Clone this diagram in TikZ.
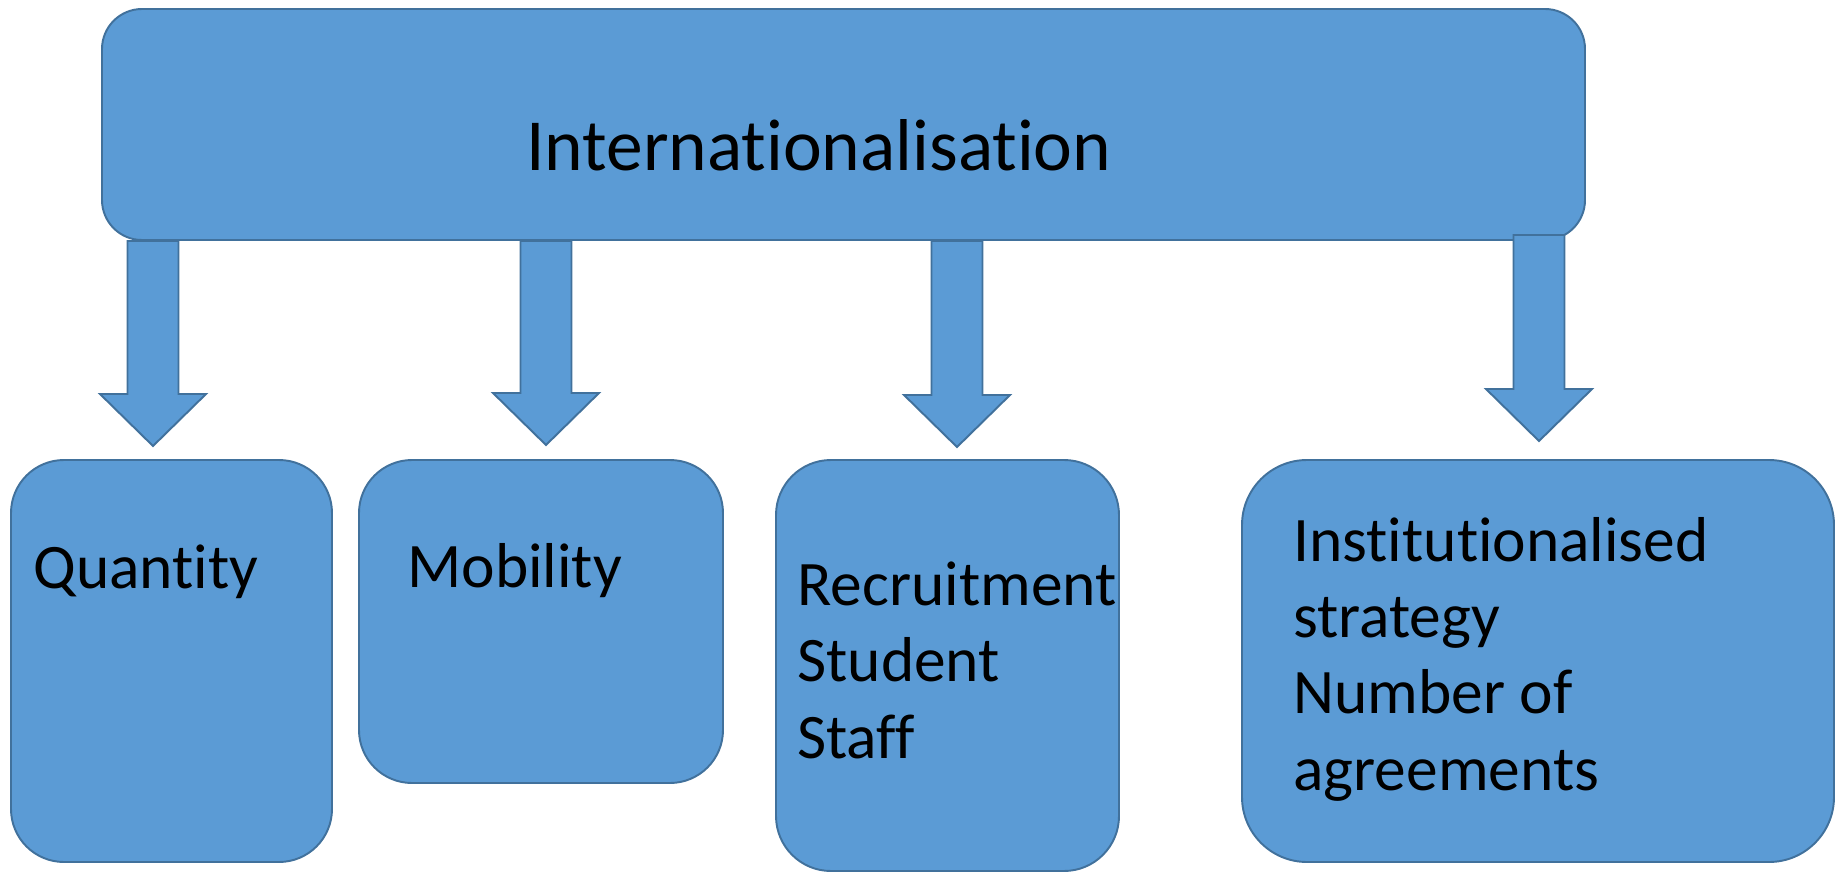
\documentclass[tikz,border=0pt]{standalone}
\usepackage{fontspec}
\setmainfont{Carlito}[Ligatures=NoCommon]
\usetikzlibrary{calc,fit}

\definecolor{boxfill}{HTML}{5B9BD5}
\definecolor{boxline}{HTML}{41719C}

\tikzset{
  box/.style={draw=boxline, fill=boxfill, line width=1.1pt, inner sep=0pt},
  arrowblock/.style={draw=boxline, fill=boxfill, line width=1.1pt, line join=miter},
  lbl/.style={inner sep=0pt, align=left, font=\fontsize{36.1pt}{43.3pt}\selectfont},
  toplbl/.style={inner sep=0pt, font=\fontsize{41.8pt}{50pt}\selectfont}
}

% block arrow from #1 down to the tip #2
\newcommand{\blockarrow}[2]{%
  \draw[arrowblock] ($(#1)+(-25.5,0)$) -- ($(#2)+(-25.5,-52)$) -- ($(#2)+(-53,-52)$)
    -- (#2) -- ($(#2)+(53,-52)$) -- ($(#2)+(25.5,-52)$) -- ($(#1)+(25.5,0)$) -- cycle;}

\begin{document}
\begin{tikzpicture}[x=0.02cm, y=-0.02cm]
    \useasboundingbox (0,0) rectangle (1837,872);

    % top bar
    \node[box, rounded corners=0.8cm, fit={(102,9) (1585,240)}] (intl) {};
    \node[toplbl, anchor=base west] (intltext) at (526,170) {Internationalisation};

    % the four boxes below
    \node[box, rounded corners=1.06cm, fit={(11,460) (332,862)}] (qty) {};
    \node[box, rounded corners=1.06cm, fit={(359,460) (723,783)}] (mob) {};
    \node[box, rounded corners=1.1cm, fit={(776,460) (1119,871)}] (rec) {};
    \node[box, rounded corners=1.3cm, fit={(1242,460) (1834,862)}] (inst) {};

    % labels, placed on the baseline of their last line
    \node[lbl, anchor=base west] (qtytext) at (33,588) {Quantity};
    \node[lbl, anchor=base west] (mobtext) at (407,587) {Mobility};
    \node[lbl, anchor=base west] (rectext) at (797,758) {Recruitment\\Student\\Staff};
    \node[lbl, anchor=base west] (insttext) at (1293,790) {Institutionalised\\strategy\\Number of\\agreements};

    % arrows
    \coordinate (qtytip) at (153,446);
    \coordinate (mobtip) at (546,445);
    \coordinate (rectip) at (957,447);
    \coordinate (insttip) at (1539,441);
    \blockarrow{intl.south -| qtytip}{qtytip}
    \blockarrow{intl.south -| mobtip}{mobtip}
    \blockarrow{intl.south -| rectip}{rectip}
    \blockarrow{$(intl.south -| insttip)+(0,-6)$}{insttip}
\end{tikzpicture}
\end{document}
